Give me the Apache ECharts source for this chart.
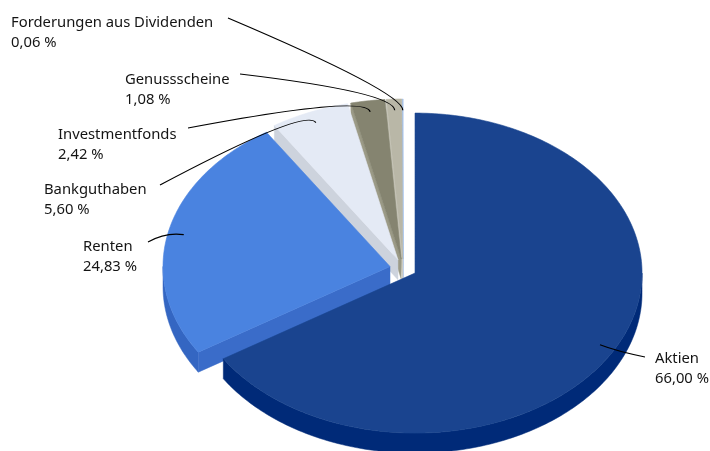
<!DOCTYPE html>
<html>
<head>
<meta charset="utf-8">
<title>Vermögensaufteilung</title>
<script src="https://cdn.jsdelivr.net/npm/echarts@6/dist/echarts.min.js"></script>
<style>
  html, body { margin: 0; padding: 0; background: #ffffff; }
  #chart { width: 710px; height: 451px; }
</style>
</head>
<body>
<div id="chart"></div>
<script>
// Portfolio breakdown (percent of total assets)
const categories = ['Aktien', 'Renten', 'Bankguthaben', 'Investmentfonds', 'Genussscheine', 'Forderungen aus Dividenden'];
const shares = [66.00, 24.83, 5.60, 2.42, 1.08, 0.06];

// Slice colours: top face, cut walls, outer rim
const topColors  = ['#1a448f', '#4a83e0', '#e4eaf5', '#858470', '#b9b7a7', '#a4c2ee'];
const wallColors = ['#163f88', '#3a6cc9', '#cdd3dd', '#9b9a86', '#c9c7ba', '#8fb0e2'];
const rimColors  = ['#002a78', '#3466c2', '#c4cbd7', '#6d6c5a', '#9f9d8e', '#7f9fd4'];

// Label blocks: left edge, first baseline, end point of the leader line
const labelLayout = [
  { x: 655, y: 364, end: [645, 357] },
  { x: 83,  y: 252, end: [148, 242] },
  { x: 44,  y: 195, end: [160, 185] },
  { x: 58,  y: 140, end: [188, 128] },
  { x: 125, y: 85,  end: [240, 74] },
  { x: 11,  y: 28,  end: [228, 18] }
];

// Tilted, exploded pie geometry (pixels)
const PIE = { cx: 403.2, cy: 268.5, rx: 227, ry: 160, depth: 20, explode: 13.5, anchorR: 0.93, bend: 18 };
const FONT = '14.8px "Noto Sans", Lato, sans-serif';

const total = shares.reduce((s, v) => s + v, 0);
const startAngles = [];
{
  let acc = 0;
  shares.forEach(v => { startAngles.push(acc / total * 360); acc += v; });
}

const rad = d => d * Math.PI / 180;
const fmt = v => v.toFixed(2).replace('.', ',') + ' %';

function sliceGeom(i) {
  const a0 = startAngles[i];
  const a1 = a0 + shares[i] / total * 360;
  const mid = (a0 + a1) / 2;
  const m = rad(mid);
  return {
    a0, a1, mid,
    vx: PIE.cx + PIE.explode * Math.sin(m),
    vy: PIE.cy - PIE.explode * Math.cos(m) * PIE.ry / PIE.rx
  };
}

function rimPt(g, deg, r, dy) {
  const t = rad(deg);
  return [g.vx + r * PIE.rx * Math.sin(t), g.vy - r * PIE.ry * Math.cos(t) + (dy || 0)];
}

function arcPts(g, from, to, dy) {
  const n = Math.max(2, Math.ceil(Math.abs(to - from) / 1.0));
  const pts = [];
  for (let k = 0; k <= n; k++) pts.push(rimPt(g, from + (to - from) * k / n, 1, dy));
  return pts;
}

// painter's order: slices further back are drawn first
const depthRank = (() => {
  const idx = shares.map((_, i) => i);
  idx.sort((p, q) => -Math.cos(rad(sliceGeom(p).mid)) - -Math.cos(rad(sliceGeom(q).mid)));
  const rank = [];
  idx.forEach((i, r) => { rank[i] = r; });
  return rank;
})();

function renderItem(params, api) {
  const i = params.dataIndex;
  const g = sliceGeom(i);
  const base = depthRank[i] * 10;
  const d = PIE.depth;
  const children = [];

  // outer rim, only the part facing the viewer
  const lo = Math.max(g.a0, 90), hi = Math.min(g.a1, 270);
  if (hi > lo) {
    const topArc = arcPts(g, lo, hi, 0);
    const botArc = arcPts(g, hi, lo, d);
    children.push({
      type: 'polygon', z2: base + 1,
      shape: { points: topArc.concat(botArc) },
      style: { fill: rimColors[i], stroke: rimColors[i], lineWidth: 0.5 }
    });
  }

  // cut wall along the starting edge, when it faces the viewer
  const c0 = Math.cos(rad(g.a0 - 90));
  if (c0 < 0) {
    const p = rimPt(g, g.a0, 1, 0);
    children.push({
      type: 'polygon', z2: base + 2,
      shape: { points: [[g.vx, g.vy], p, [p[0], p[1] + d], [g.vx, g.vy + d]] },
      style: { fill: wallColors[i], stroke: wallColors[i], lineWidth: 0.5 }
    });
  }

  // top face
  const face = [[g.vx, g.vy]].concat(arcPts(g, g.a0, g.a1, 0));
  children.push({
    type: 'polygon', z2: base + 3,
    shape: { points: face },
    style: { fill: topColors[i], stroke: topColors[i], lineWidth: 0.6 }
  });

  // leader line and label
  const L = labelLayout[i];
  const anc = rimPt(g, g.mid, PIE.anchorR, 0);
  const m = rad(g.mid);
  let ux = PIE.rx * Math.sin(m), uy = -PIE.ry * Math.cos(m);
  const len = Math.hypot(ux, uy);
  ux /= len; uy /= len;
  children.push({
    type: 'bezierCurve', z2: 200,
    shape: {
      x1: anc[0], y1: anc[1],
      cpx1: anc[0] + PIE.bend * ux, cpy1: anc[1] + PIE.bend * uy,
      x2: L.end[0], y2: L.end[1]
    },
    style: { stroke: '#000000', lineWidth: 1.2, fill: null }
  });
  children.push({
    type: 'text', z2: 201,
    style: { x: L.x, y: L.y - 5, text: categories[i], font: FONT, fill: '#141414', align: 'left', verticalAlign: 'middle' }
  });
  children.push({
    type: 'text', z2: 201,
    style: { x: L.x, y: L.y + 15, text: fmt(api.value(0)), font: FONT, fill: '#141414', align: 'left', verticalAlign: 'middle' }
  });

  return { type: 'group', children };
}

const chart = echarts.init(document.getElementById('chart'), null, { renderer: 'canvas' });
chart.setOption({
  animation: false,
  backgroundColor: '#ffffff',
  series: [{
    type: 'custom',
    coordinateSystem: 'none',
    renderItem,
    data: shares.map((v, i) => ({ name: categories[i], value: [v] }))
  }]
});
</script>
</body>
</html>
